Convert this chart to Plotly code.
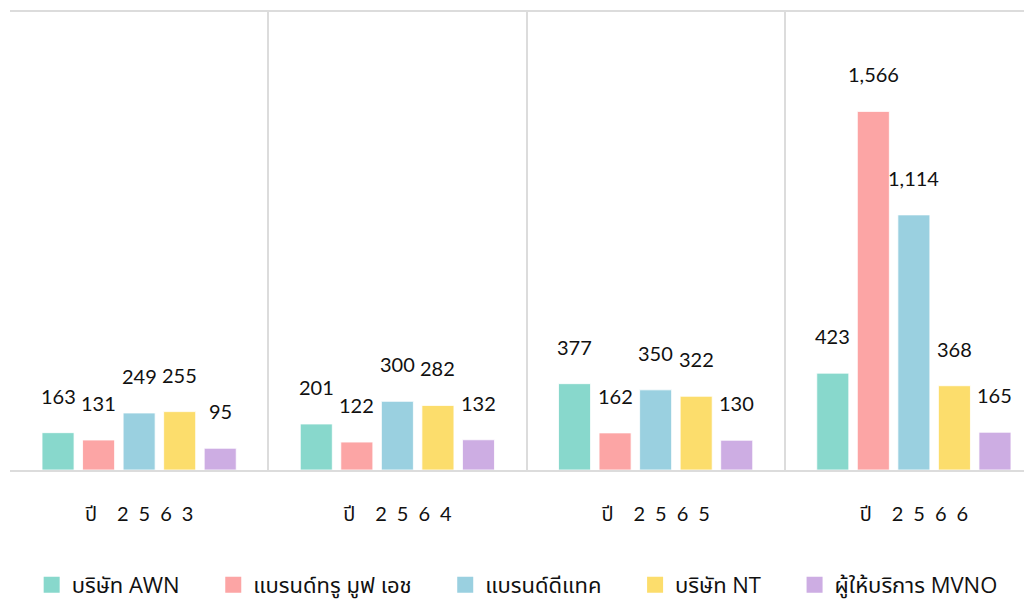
import plotly.graph_objects as go

# ---- data ----
SP = "\u2004\u2006"
years = ["ปี\u2003\u2005" + SP.join(list(y)) for y in ["2563", "2564", "2565", "2566"]]
series_names = ["บริษัท AWN", "แบรนด์ทรู มูฟ เอช", "แบรนด์ดีแทค", "บริษัท NT", "ผู้ให้บริการ MVNO"]
awn = [163, 201, 377, 423]
true_move_h = [131, 122, 162, 1566]
dtac = [249, 300, 350, 1114]
nt = [255, 282, 322, 368]
mvno = [95, 132, 130, 165]
colors = ["#88D8CC", "#FCA5A5", "#9AD0E0", "#FCDD6C", "#CDADE3"]

all_values = [awn, true_move_h, dtac, nt, mvno]

# ---- layout geometry ----
W, H = 1040, 610
ML, MR, MT, MB = 2, 5, 4, 148
BARGAP, BARGROUPGAP = 0.215, 0.21
plot_w = W - ML - MR
group_px = plot_w / len(years)
slot_px = group_px * (1 - BARGAP) / len(series_names)

LEG_PAD = "\u00a0" * 5

fig = go.Figure()
for name, vals, col in zip(series_names, all_values, colors):
    fig.add_trace(go.Bar(
        x=years, y=vals, name=name, showlegend=False, legendgroup=name,
        marker=dict(color=col, line=dict(color="rgba(255,255,255,0.8)", width=1)),
        hoverinfo="y",
    ))
# legend entries (larger square swatches)
for name, col in zip(series_names, colors):
    fig.add_trace(go.Scatter(
        x=[years[0]], y=[None], name=name + LEG_PAD, mode="markers", legendgroup=name,
        marker=dict(symbol="square", size=18, color=col), hoverinfo="skip",
    ))

annotations = []
for i, vals in enumerate(all_values):
    for cat, v in zip(years, vals):
        annotations.append(dict(
            x=cat, y=v, xref="x", yref="y", text=f"{v:,}", showarrow=False,
            xshift=(i - 2) * slot_px, yshift=37, yanchor="middle", xanchor="center",
            font=dict(family="Lato, 'Noto Sans Thai', sans-serif", size=20, color="#111111"),
        ))

fig.update_layout(
    width=W, height=H,
    margin=dict(l=ML, r=MR, t=MT, b=MB),
    paper_bgcolor="white", plot_bgcolor="white",
    barmode="group", bargap=BARGAP, bargroupgap=BARGROUPGAP,
    showlegend=True,
    legend=dict(orientation="h", x=0.505, xanchor="center", y=-0.251, yanchor="middle",
                font=dict(family="'Open Sans', 'Noto Sans Thai', sans-serif", size=22, color="#111111"),
                itemclick=False, itemwidth=30),
    annotations=annotations,
    xaxis=dict(
        type="category", tickson="boundaries", ticks="",
        showgrid=True, gridcolor="#dcdcdc", gridwidth=2,
        showline=True, mirror=True, linecolor="#dcdcdc", linewidth=2,
        tickfont=dict(family="Lato, 'Noto Sans Thai', sans-serif", size=20, color="#111111"),
        ticklabelstandoff=25,
    ),
    yaxis=dict(range=[0, 2000], visible=False, showgrid=False, zeroline=False),
)

fig.write_html("out.html", post_script="document.body.style.overflow='hidden';")
